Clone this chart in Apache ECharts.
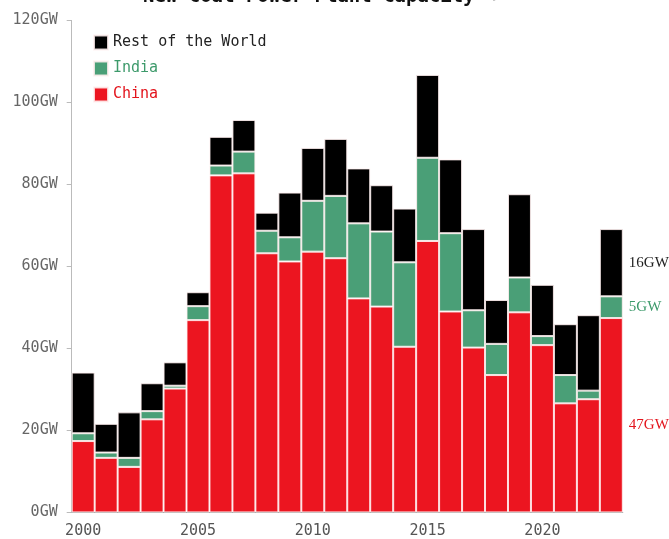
<!DOCTYPE html>
<html>
<head>
<meta charset="utf-8">
<script src="https://cdn.jsdelivr.net/npm/echarts@6/dist/echarts.min.js"></script>
<style>
html,body{margin:0;padding:0;background:#fff;}
#chart{width:669px;height:539px;}
</style>
</head>
<body>
<div id="chart"></div>
<script>
const years = ['2000','2001','2002','2003','2004','2005','2006','2007','2008','2009','2010','2011','2012','2013','2014','2015','2016','2017','2018','2019','2020','2021','2022','2023'];
const china = [17.4,13.3,11.1,22.7,30.2,46.9,82.2,82.7,63.2,61.2,63.6,62.0,52.2,50.2,40.4,66.2,49.0,40.2,33.5,48.8,40.8,26.6,27.6,47.4];
const india = [1.9,1.3,2.2,2.0,0.7,3.4,2.4,5.3,5.5,5.9,12.4,15.2,18.3,18.3,20.6,20.3,19.1,9.1,7.6,8.5,2.2,6.9,2.1,5.3];
const rest  = [14.8,7.0,11.1,6.8,5.7,3.4,7.0,7.7,4.4,10.9,12.9,13.9,13.4,11.3,13.1,20.2,18.0,19.8,10.7,20.3,12.5,12.4,18.4,16.4];
const yTicks = [0,20,40,60,80,100,120];

const MONO = '"DejaVu Sans Mono", "Liberation Mono", monospace';
const SERIF = '"Liberation Serif", "DejaVu Serif", serif';
const RED = '#ec1520', GREEN = '#4a9f77', BLACK = '#000000';

function withEndLabel(arr, color, offset) {
  return arr.map((v, i) => i === arr.length - 1 ? {
    value: v,
    label: {
      show: true, position: 'right', distance: 6, offset: offset,
      formatter: p => Math.round(p.value) + 'GW',
      color: color, fontFamily: SERIF, fontSize: 15
    }
  } : v);
}

const barStyle = c => ({ color: c, borderColor: 'rgba(255,240,240,0.85)', borderWidth: 1 });

const chart = echarts.init(document.getElementById('chart'));
chart.setOption({
  animation: false,
  backgroundColor: '#fff',
  title: {
    text: '{a|New Coal Power Plant Capacity} {b|[Gigawatts]}',
    left: 'center', top: -17,
    textStyle: {
      rich: {
        a: { fontFamily: MONO, fontSize: 19, fontWeight: 'bold', color: '#111' },
        b: { fontFamily: MONO, fontSize: 7, color: '#888' }
      }
    }
  },
  legend: {
    orient: 'vertical', left: 88, top: 29.5,
    itemWidth: 14, itemHeight: 14, itemGap: 10,
    icon: 'rect',
    textStyle: { fontFamily: MONO, fontSize: 15 },
    data: [
      { name: 'Rest of the World', textStyle: { color: '#222' } },
      { name: 'India', textStyle: { color: '#3d9a6b' } },
      { name: 'China', textStyle: { color: '#e3141c' } }
    ]
  },
  grid: { left: 71.7, right: 46.2, top: 20.4, bottom: 26.6 },
  xAxis: {
    type: 'category', data: years, boundaryGap: true,
    axisLine: { lineStyle: { color: '#aaa', width: 1 } },
    axisTick: { interval: 4, length: 5, lineStyle: { color: '#aaa' } },
    axisLabel: { interval: 4, margin: 11, fontFamily: MONO, fontSize: 15, color: '#555' }
  },
  yAxis: {
    type: 'value', min: yTicks[0], max: yTicks[yTicks.length - 1], interval: 20,
    axisLine: { show: true, lineStyle: { color: '#bbb', width: 1 } },
    axisTick: { show: true, length: 5, lineStyle: { color: '#bbb' } },
    splitLine: { show: false },
    axisLabel: { formatter: '{value}GW', margin: 14, fontFamily: MONO, fontSize: 15, color: '#666' }
  },
  series: [
    { name: 'China', type: 'bar', stack: 'total', barCategoryGap: '0%',
      itemStyle: barStyle(RED), data: withEndLabel(china, '#e3141c', [0, 10]) },
    { name: 'India', type: 'bar', stack: 'total', barCategoryGap: '0%',
      itemStyle: barStyle(GREEN), data: withEndLabel(india, '#3d9a6b', [0, 0]) },
    { name: 'Rest of the World', type: 'bar', stack: 'total', barCategoryGap: '0%',
      itemStyle: barStyle(BLACK), data: withEndLabel(rest, '#222', [0, 0]) }
  ]
});
</script>
</body>
</html>
